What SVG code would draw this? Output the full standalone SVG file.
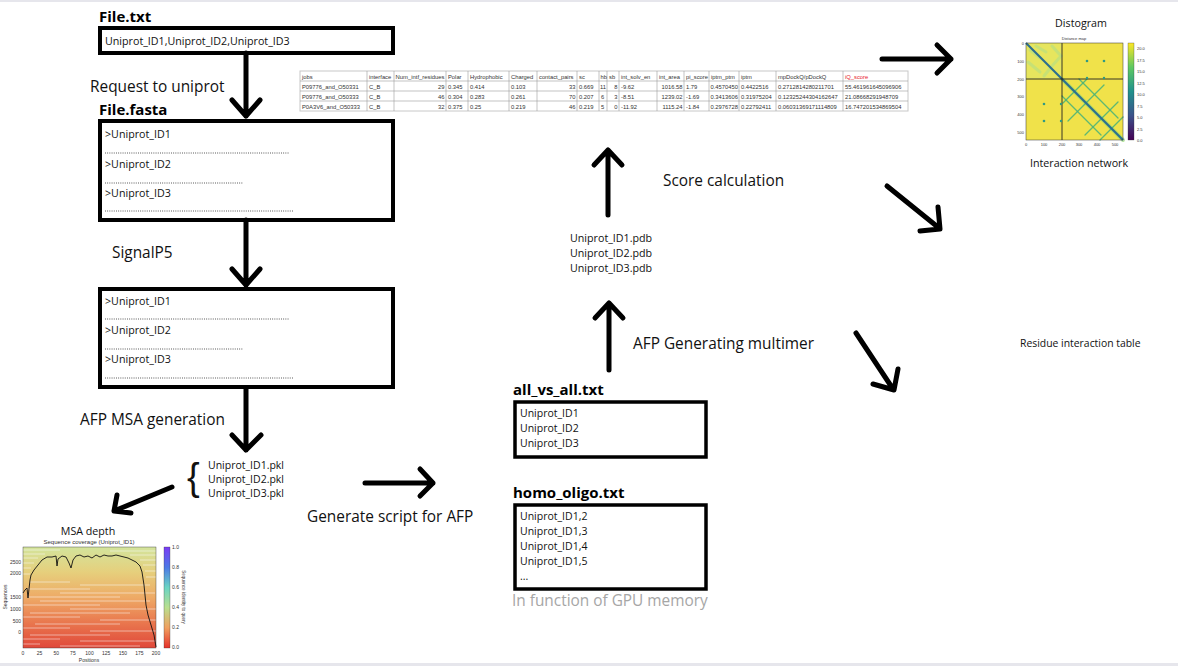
<svg xmlns="http://www.w3.org/2000/svg" width="1178" height="666" viewBox="0 0 1178 666">
<style>
.t{font-family:"Open Sans","Liberation Sans",sans-serif;fill:#111}
.lbl{font-size:15.4px}
.ttl{font-size:15px;font-weight:bold;fill:#000}
.sm{font-size:10.7px}
.box{fill:#fff;stroke:#000;stroke-width:4}
.arr{fill:none;stroke:#000;stroke-width:5;stroke-linecap:round;stroke-linejoin:round}
.dots{stroke:#333;stroke-width:0.9;stroke-dasharray:0.9 1.3}
.tb{font-family:"Liberation Sans",Arial,sans-serif;font-size:5.8px;fill:#333}
.tr{text-anchor:end}
.grid{fill:none;stroke:#9a9a9a;stroke-width:0.6}
.ax{font-family:"Liberation Sans",Arial,sans-serif;font-size:4px;fill:#333}
.ax5{font-family:"Liberation Sans",Arial,sans-serif;font-size:5px;fill:#333}
.wl{stroke:#fff;stroke-width:0.7;opacity:0.7}
</style>
<defs>
<linearGradient id="msa" x1="0" y1="0" x2="0" y2="1">
<stop offset="0" stop-color="#d3e49c"/>
<stop offset="0.25" stop-color="#e6cf7c"/>
<stop offset="0.5" stop-color="#eeaa66"/>
<stop offset="0.75" stop-color="#e9774e"/>
<stop offset="1" stop-color="#e0483a"/>
</linearGradient>
<linearGradient id="msacb" x1="0" y1="0" x2="0" y2="1">
<stop offset="0" stop-color="#7a3cf5"/>
<stop offset="0.2" stop-color="#4c78e6"/>
<stop offset="0.4" stop-color="#6ad4c4"/>
<stop offset="0.6" stop-color="#b9df8e"/>
<stop offset="0.8" stop-color="#f0a060"/>
<stop offset="1" stop-color="#e5302a"/>
</linearGradient>
<linearGradient id="vir" x1="0" y1="0" x2="0" y2="1">
<stop offset="0" stop-color="#fde725"/>
<stop offset="0.25" stop-color="#5ec962"/>
<stop offset="0.5" stop-color="#21918c"/>
<stop offset="0.75" stop-color="#3b528b"/>
<stop offset="1" stop-color="#440154"/>
</linearGradient>
</defs>
<rect width="1178" height="666" fill="#fff"/>
<rect x="0" y="0" width="1178" height="2" fill="#e6e6ec"/>
<rect x="0" y="663" width="1178" height="3" fill="#e6e6ec"/>

<g id="file-txt">
<text class="t ttl" x="99" y="22">File.txt</text>
<rect class="box" x="100" y="28" width="293" height="25"/>
<text class="t sm" x="105" y="45">Uniprot_ID1,Uniprot_ID2,Uniprot_ID3</text>
</g>

<g id="file-fasta">
<text class="t ttl" x="99" y="115">File.fasta</text>
<rect class="box" x="100" y="121" width="293" height="99"/>
<text class="t sm" x="105" y="138">&gt;Uniprot_ID1</text>
<line class="dots" x1="105" y1="153" x2="289" y2="153"/>
<text class="t sm" x="105" y="168">&gt;Uniprot_ID2</text>
<line class="dots" x1="105" y1="183" x2="243" y2="183"/>
<text class="t sm" x="105" y="197">&gt;Uniprot_ID3</text>
<line class="dots" x1="105" y1="211" x2="294" y2="211"/>
</g>

<g id="signalp-out">
<rect class="box" x="100" y="289" width="293" height="98"/>
<text class="t sm" x="105" y="305">&gt;Uniprot_ID1</text>
<line class="dots" x1="105" y1="319" x2="289" y2="319"/>
<text class="t sm" x="105" y="334">&gt;Uniprot_ID2</text>
<line class="dots" x1="105" y1="349" x2="243" y2="349"/>
<text class="t sm" x="105" y="363">&gt;Uniprot_ID3</text>
<line class="dots" x1="105" y1="378" x2="294" y2="378"/>
</g>

<g id="pkl">
<text x="187" y="490" style="font-family:'Liberation Sans',sans-serif;font-size:38px;fill:#111">{</text>
<text class="t" x="208" y="469" style="font-size:10.5px">Uniprot_ID1.pkl</text>
<text class="t" x="208" y="483" style="font-size:10.5px">Uniprot_ID2.pkl</text>
<text class="t" x="208" y="497" style="font-size:10.5px">Uniprot_ID3.pkl</text>
</g>

<g id="all-vs-all">
<text class="t ttl" x="513" y="395">all_vs_all.txt</text>
<rect class="box" x="515" y="402" width="191" height="55" style="stroke-width:3.5"/>
<text class="t" x="520" y="417" style="font-size:10.5px">Uniprot_ID1</text>
<text class="t" x="520" y="432" style="font-size:10.5px">Uniprot_ID2</text>
<text class="t" x="520" y="447" style="font-size:10.5px">Uniprot_ID3</text>
</g>

<g id="homo-oligo">
<text class="t ttl" x="513" y="498">homo_oligo.txt</text>
<rect class="box" x="515" y="505" width="191" height="84" style="stroke-width:3.5"/>
<text class="t" x="520" y="520" style="font-size:10.5px">Uniprot_ID1,2</text>
<text class="t" x="520" y="535" style="font-size:10.5px">Uniprot_ID1,3</text>
<text class="t" x="520" y="550" style="font-size:10.5px">Uniprot_ID1,4</text>
<text class="t" x="520" y="565" style="font-size:10.5px">Uniprot_ID1,5</text>
<text class="t" x="520" y="580" style="font-size:10.5px">...</text>
<text class="t lbl" x="512" y="606" style="fill:#a6a6a6">In function of GPU memory</text>
</g>

<g id="pdb">
<text class="t sm" x="570" y="242">Uniprot_ID1.pdb</text>
<text class="t sm" x="570" y="257">Uniprot_ID2.pdb</text>
<text class="t sm" x="570" y="272">Uniprot_ID3.pdb</text>
</g>

<g id="labels">
<text class="t lbl" x="90" y="92">Request to uniprot</text>
<text class="t lbl" x="112" y="258">SignalP5</text>
<text class="t lbl" x="80" y="425">AFP MSA generation</text>
<text class="t lbl" x="307" y="522">Generate script for AFP</text>
<text class="t lbl" x="633" y="349">AFP Generating multimer</text>
<text class="t lbl" x="663" y="186">Score calculation</text>
<text class="t" x="1020" y="347" style="font-size:10.4px">Residue interaction table</text>
</g>

<g id="table">
<rect x="300" y="71" width="608" height="40" fill="#fff" stroke="#c8c8c8" stroke-width="1"/>
<path class="grid" d="M300,81H908M300,91H908M300,101H908M367,71V111M394,71V111M446,71V111M468,71V111M509,71V111M537,71V111M577,71V111M599,71V111M607,71V111M619,71V111M657,71V111M684,71V111M709,71V111M739,71V111M776,71V111M843,71V111"/>
<g class="tb">
<text x="302" y="78.5">jobs</text><text x="369" y="78.5">interface</text><text x="395.5" y="78.5" textLength="49" lengthAdjust="spacingAndGlyphs">Num_intf_residues</text><text x="448" y="78.5">Polar</text><text x="470" y="78.5">Hydrophobic</text><text x="511" y="78.5">Charged</text><text x="539" y="78.5">contact_pairs</text><text x="579" y="78.5">sc</text><text x="600.5" y="78.5">hb</text><text x="609" y="78.5">sb</text><text x="621" y="78.5">int_solv_en</text><text x="659" y="78.5">int_area</text><text x="686" y="78.5">pi_score</text><text x="711" y="78.5">iptm_ptm</text><text x="741" y="78.5">iptm</text><text x="778" y="78.5">mpDockQ/pDockQ</text><text x="845" y="78.5" style="fill:#e8202a">iQ_score</text>
<text x="302" y="88.5">P09776_and_O50331</text><text x="369" y="88.5">C_B</text><text class="tr" x="444.5" y="88.5">29</text><text x="448" y="88.5">0.345</text><text x="470" y="88.5">0.414</text><text x="511" y="88.5">0.103</text><text class="tr" x="575.5" y="88.5">33</text><text x="579" y="88.5">0.669</text><text x="600" y="88.5">11</text><text class="tr" x="617.5" y="88.5">8</text><text x="621" y="88.5">-9.62</text><text class="tr" x="682.5" y="88.5">1016.58</text><text x="686" y="88.5">1.79</text><text x="710.5" y="88.5">0.4570450</text><text x="741" y="88.5">0.4422516</text><text x="778" y="88.5">0.2712814280211701</text><text x="845" y="88.5">55.461961645096906</text>
<text x="302" y="98.5">P09776_and_O50333</text><text x="369" y="98.5">C_B</text><text class="tr" x="444.5" y="98.5">46</text><text x="448" y="98.5">0.304</text><text x="470" y="98.5">0.283</text><text x="511" y="98.5">0.261</text><text class="tr" x="575.5" y="98.5">70</text><text x="579" y="98.5">0.207</text><text x="601" y="98.5">6</text><text class="tr" x="617.5" y="98.5">3</text><text x="621" y="98.5">-8.51</text><text class="tr" x="682.5" y="98.5">1239.02</text><text x="686" y="98.5">-1.69</text><text x="710.5" y="98.5">0.3413606</text><text x="741" y="98.5">0.31975204</text><text x="778" y="98.5">0.12325244304162647</text><text x="845" y="98.5">21.08668291948709</text>
<text x="302" y="108.5">P0A3V6_and_O50333</text><text x="369" y="108.5">C_B</text><text class="tr" x="444.5" y="108.5">32</text><text x="448" y="108.5">0.375</text><text x="470" y="108.5">0.25</text><text x="511" y="108.5">0.219</text><text class="tr" x="575.5" y="108.5">46</text><text x="579" y="108.5">0.219</text><text x="601" y="108.5">5</text><text class="tr" x="617.5" y="108.5">0</text><text x="621" y="108.5">-11.92</text><text class="tr" x="682.5" y="108.5">1115.24</text><text x="686" y="108.5">-1.84</text><text x="710.5" y="108.5">0.2976728</text><text x="741" y="108.5">0.22792411</text><text x="778" y="108.5">0.06031369171114809</text><text x="845" y="108.5">16.747201534869504</text>
</g>
</g>

<g id="distogram">
<text class="t sm" x="1081" y="27" text-anchor="middle">Distogram</text>
<text class="ax" x="1074" y="40" text-anchor="middle">Distance map</text>
<rect x="1026" y="43" width="97" height="97" fill="#f0e24a"/>
<rect x="1026" y="43" width="36" height="36" fill="#e3e663" opacity="0.8"/>
<g fill="none" stroke-linecap="round">
<path d="M1030,50 L1040,58 M1052,46 L1061,56 L1052,66 L1044,76 M1028,62 L1040,72 M1036,46 L1046,52" stroke="#bfe07a" stroke-width="3" opacity="0.8"/>
<path d="M1062,79 L1123,140" stroke="#8ed66a" stroke-width="4" opacity="0.6"/>
<path d="M1079,79 L1118,118 M1062,96 L1101,135" stroke="#44b07a" stroke-width="1.3" opacity="0.85"/>
<path d="M1063,103 L1087,79 M1068,121 L1104,85 M1085,135 L1118,102 M1100,140 L1123,117" stroke="#44b07a" stroke-width="1.3" opacity="0.85"/>
</g>
<line x1="1026" y1="43" x2="1123" y2="140" stroke="#2c6f8e" stroke-width="2.2"/>
<line x1="1062" y1="43" x2="1062" y2="140" stroke="#222" stroke-width="0.9"/>
<line x1="1026" y1="79" x2="1123" y2="79" stroke="#222" stroke-width="0.9"/>
<g fill="#2f9a84">
<circle cx="1044" cy="104" r="1.3"/><circle cx="1044" cy="121" r="1.3"/><circle cx="1087" cy="61" r="1.3"/><circle cx="1104" cy="61" r="1.3"/><circle cx="1061" cy="104" r="1.2"/><circle cx="1061" cy="121" r="1.2"/><circle cx="1087" cy="78" r="1.2"/><circle cx="1104" cy="78" r="1.2"/>
</g>
<rect x="1026" y="43" width="97" height="97" fill="none" stroke="#333" stroke-width="0.5"/>
<rect x="1128" y="43" width="6" height="97" fill="url(#vir)" stroke="#333" stroke-width="0.3"/>
<g class="ax">
<text x="1137" y="50">20.0</text><text x="1137" y="61.5">17.5</text><text x="1137" y="73">15.0</text><text x="1137" y="84.5">12.5</text><text x="1137" y="96">10.0</text><text x="1137" y="107.5">7.5</text><text x="1137" y="119">5.0</text><text x="1137" y="130.5">2.5</text><text x="1137" y="142">0.0</text>
<g text-anchor="end"><text x="1024" y="44.5">0</text><text x="1024" y="63">100</text><text x="1024" y="80.5">200</text><text x="1024" y="98">300</text><text x="1024" y="116">400</text><text x="1024" y="133.5">500</text></g>
<g text-anchor="middle"><text x="1026" y="146">0</text><text x="1044" y="146">100</text><text x="1062" y="146">200</text><text x="1079" y="146">300</text><text x="1097" y="146">400</text><text x="1115" y="146">500</text></g>
</g>
<text class="t sm" x="1079" y="167" text-anchor="middle">Interaction network</text>
</g>

<g id="msa-depth">
<text class="t sm" x="88" y="535" text-anchor="middle">MSA depth</text>
<text class="ax5" x="89" y="544" text-anchor="middle" style="font-size:6px">Sequence coverage (Uniprot_ID1)</text>
<rect x="23" y="547" width="133" height="101" fill="url(#msa)"/>
<g class="wl">
<line x1="23" y1="550" x2="60" y2="550"/><line x1="110" y1="551" x2="156" y2="551"/><line x1="23" y1="554" x2="45" y2="554"/><line x1="130" y1="555" x2="156" y2="555"/>
<line x1="23" y1="558" x2="38" y2="558"/><line x1="140" y1="560" x2="156" y2="560"/><line x1="23" y1="563" x2="34" y2="563"/><line x1="143" y1="565" x2="156" y2="565"/>
<line x1="23" y1="568" x2="31" y2="568"/><line x1="145" y1="571" x2="156" y2="571"/><line x1="23" y1="574" x2="30" y2="574"/><line x1="146" y1="577" x2="156" y2="577"/>
<line x1="30" y1="582" x2="70" y2="582"/><line x1="80" y1="585" x2="150" y2="585"/><line x1="26" y1="589" x2="90" y2="589"/><line x1="60" y1="593" x2="155" y2="593"/>
<line x1="28" y1="597" x2="120" y2="597"/><line x1="40" y1="601" x2="150" y2="601"/><line x1="23" y1="605" x2="100" y2="605"/><line x1="70" y1="609" x2="156" y2="609"/>
<line x1="30" y1="613" x2="130" y2="613"/><line x1="23" y1="617" x2="80" y2="617"/><line x1="100" y1="620" x2="156" y2="620"/><line x1="35" y1="624" x2="120" y2="624"/>
<line x1="23" y1="628" x2="70" y2="628"/><line x1="90" y1="631" x2="156" y2="631"/><line x1="30" y1="635" x2="110" y2="635"/><line x1="23" y1="639" x2="60" y2="639"/>
<line x1="80" y1="641" x2="156" y2="641"/><line x1="23" y1="644" x2="40" y2="644"/><line x1="60" y1="646" x2="140" y2="646"/>
</g>
<path d="M23,593 L25,590 L27,588 L28,598 L30,580 L31,575 L34,570 L38,565 L42,560 L47,557 L52,557 L56,556 L57,566 L58,559 L62,556 L66,557 L69,563 L71,568 L73,560 L76,556 L80,555 L84,557 L88,556 L92,558 L96,555 L100,557 L104,555 L108,556 L112,556 L116,555 L120,556 L124,557 L128,558 L132,560 L136,562 L140,566 L142,572 L144,585 L146,605 L148,615 L151,625 L154,635 L156,647" fill="none" stroke="#111" stroke-width="0.9"/>
<rect x="23" y="547" width="133" height="101" fill="none" stroke="#333" stroke-width="0.4"/>
<rect x="164" y="547" width="6" height="101" fill="url(#msacb)" stroke="#333" stroke-width="0.3"/>
<g class="ax5">
<text x="172" y="549">1.0</text><text x="172" y="569">0.8</text><text x="172" y="589">0.6</text><text x="172" y="609">0.4</text><text x="172" y="629">0.2</text><text x="172" y="649">0.0</text>
<g text-anchor="end"><text x="21" y="563.5">2500</text><text x="21" y="574.5">2000</text><text x="21" y="598.5">1500</text><text x="21" y="610.5">1000</text><text x="21" y="622.5">500</text><text x="21" y="633.5">0</text></g>
<g text-anchor="middle"><text x="23" y="655">0</text><text x="39.6" y="655">25</text><text x="56.3" y="655">50</text><text x="72.9" y="655">75</text><text x="89.5" y="655">100</text><text x="106.1" y="655">125</text><text x="122.8" y="655">150</text><text x="139.4" y="655">175</text><text x="156" y="655">200</text></g>
<text x="89" y="662" text-anchor="middle">Positions</text>
<text transform="translate(7,597) rotate(-90)" text-anchor="middle">Sequences</text>
<text transform="translate(182,597) rotate(90)" text-anchor="middle" style="font-size:4.5px">Sequence identity to query</text>
</g>
</g>

<g id="connectors">
<path class="arr" d="M246,53 V116 M232,100 L246,116 L260,100"/>
<path class="arr" d="M246,220 V285 M232,269 L246,285 L260,269"/>
<path class="arr" d="M246,388 V450 M232,435 L246,450 L261,435"/>
<path class="arr" d="M172,487 L114,511 M117,495 L114,511 L131,513"/>
<path class="arr" d="M365,483 H433 M420,469 L433,483 L420,496"/>
<path class="arr" d="M609,370 V303 M595,318 L609,303 L623,318"/>
<path class="arr" d="M608,215 V150 M594,165 L608,150 L622,165"/>
<path class="arr" d="M882,59 H951 M937,45 L951,59 L937,73"/>
<path class="arr" d="M887,186 L939,228 M938,207 L940,229 L920,231"/>
<path class="arr" d="M856,333 L893,389 M898,369 L894,390 L873,384"/>
</g>
</svg>
